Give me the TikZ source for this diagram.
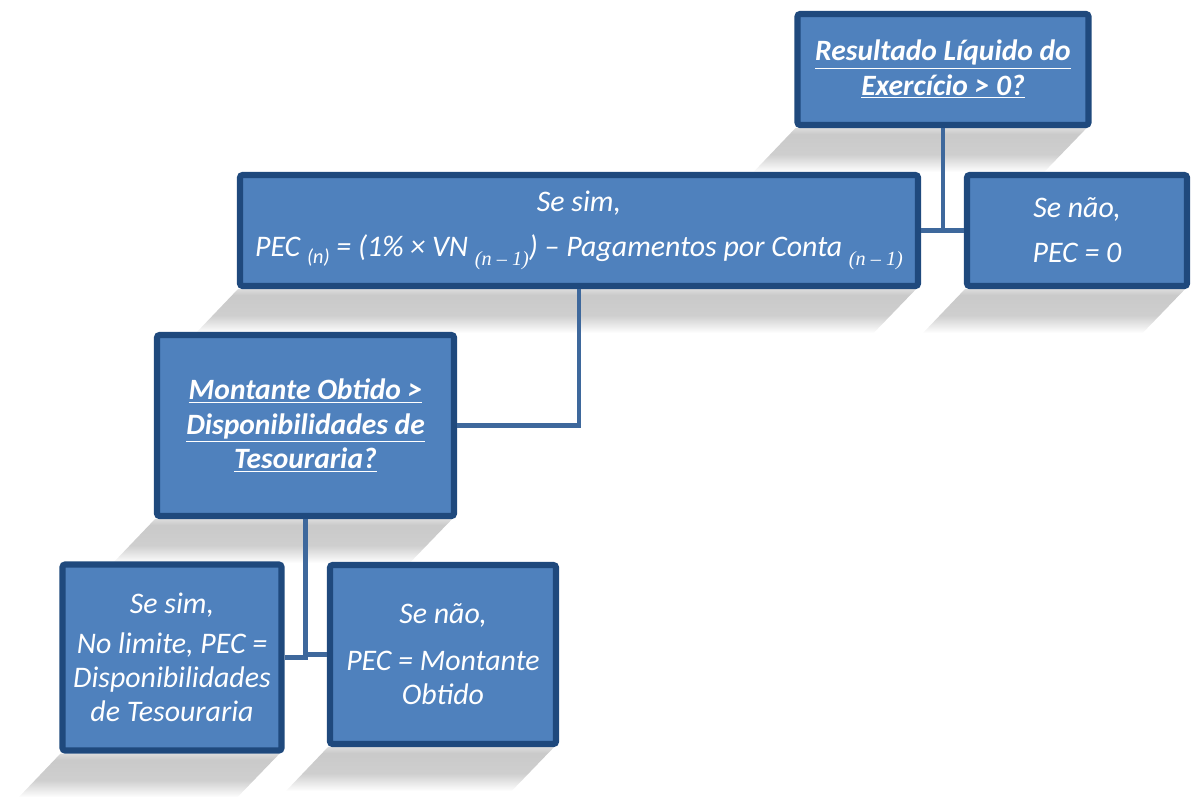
\documentclass[tikz,border=0pt]{standalone}
\usepackage{fontspec}
\setmainfont{Carlito}
\newfontfamily\subserif{Liberation Serif}
\usetikzlibrary{backgrounds,calc}
\definecolor{boxfill}{RGB}{79,129,189}
\definecolor{boxline}{RGB}{31,73,125}
\definecolor{linkcol}{RGB}{62,104,156}
\newlength{\bwidth}
\setlength{\bwidth}{3.5pt}
\pgfdeclareverticalshading{shadowfade}{100bp}{color(0bp)=(white); color(25bp)=(white);
  color(45bp)=(black!19); color(68bp)=(black!21); color(75bp)=(black!14); color(100bp)=(black!14)}
\newcommand{\nsub}[1]{\raisebox{-0.5ex}{\fontsize{11.5}{11.5}\selectfont #1}}
\newcommand{\ssub}[1]{\raisebox{-0.6ex}{\subserif\itshape\fontsize{11.5}{11.5}\selectfont #1}}
\newcommand{\boxshadow}[1]{%
  \shade[shading=shadowfade]
    ($(#1.south west)+(0.02,0)$) -- ($(#1.south east)+(-0.1,0)$)
    -- ++(-0.85,-0.88) -- ($(#1.south west)+(-0.82,-0.88)$) -- cycle;}
\tikzset{
  abox/.style={draw=boxline,fill=boxfill,line width=\bwidth,rounded corners=1.5pt,
    text=white,align=center,font=\fontsize{17}{19.5}\selectfont\itshape},
  qbox/.style={abox,font=\fontsize{16.8}{19.5}\selectfont\bfseries\itshape},
  link/.style={draw=linkcol,line width=2.4pt}
}
\begin{document}
\begin{tikzpicture}
  \useasboundingbox (0,0) rectangle (23.84,-15.92);
  % questions
  \node[qbox,minimum width=5.82cm,minimum height=2.22cm] (q1) at (18.86,-1.39)
    {\underline{Resultado Líquido do}\\\underline{Exercício > 0?}};
  \node[qbox,minimum width=5.94cm,minimum height=3.62cm] (q2) at (6.11,-8.51)
    {\underline{Montante Obtido >}\\\underline{Disponibilidades de}\\\underline{Tesouraria?}};
  % answers
  \node[abox,minimum width=13.56cm,minimum height=2.22cm] (sim1) at (11.58,-4.61)
    {Se sim,\\[6pt]PEC \nsub{(n)} = (1\% × VN \ssub{(n – 1)}) – Pagamentos por Conta \ssub{(n – 1)}};
  \node[abox,minimum width=4.40cm,minimum height=2.22cm] (nao1) at (21.54,-4.61)
    {Se não,\\[6pt]PEC = 0};
  \node[abox,minimum width=4.38cm,minimum height=3.72cm] (sim2) at (3.44,-13.15)
    {Se sim,\\[3pt]No limite, PEC =\\Disponibilidades\\de Tesouraria};
  \node[abox,minimum width=4.52cm,minimum height=3.58cm] (nao2) at (8.86,-13.09)
    {Se não,\\[7pt]PEC = Montante\\Obtido};
  % shadows
  \begin{scope}[on background layer]
    \foreach \b in {q1,q2,sim1,nao1,sim2,nao2} {\boxshadow{\b}}
  \end{scope}
  % connectors
  \draw[link] (q1.south) |- (sim1.east);
  \draw[link] (q1.south) |- (nao1.west);
  \draw[link] (sim1.south) |- (q2.east);
  \draw[link] (q2.south) |- (sim2.east);
  \draw[link] (q2.south) |- (nao2.west);
\end{tikzpicture}
\end{document}
